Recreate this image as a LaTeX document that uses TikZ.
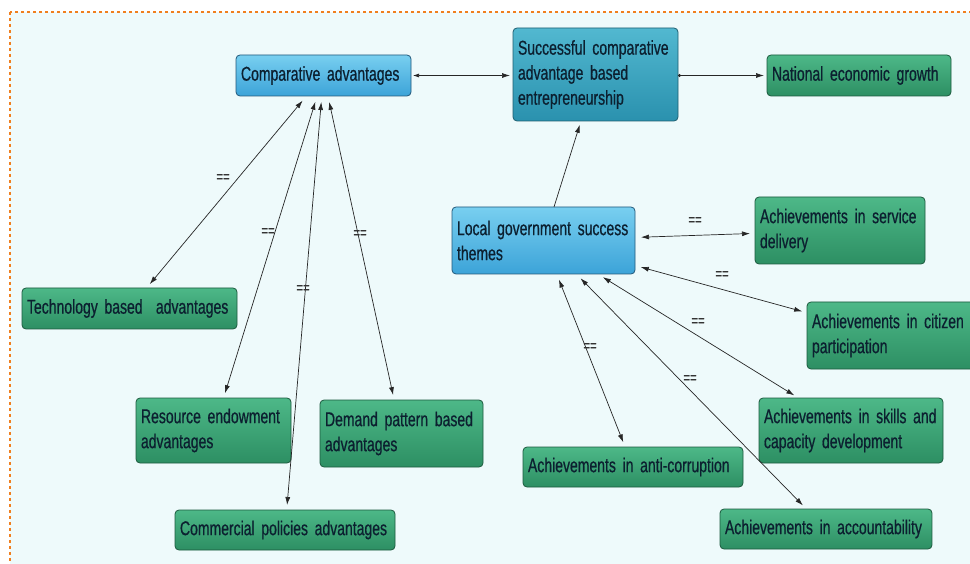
\documentclass[tikz,border=0pt]{standalone}
\usepackage{fontspec}
\setmainfont{Liberation Sans}[FakeStretch=0.7, WordSpace=0.45, FakeBold=0.6]
\usetikzlibrary{arrows.meta}
\definecolor{bgc}{HTML}{EEFAFB}
\definecolor{framec}{HTML}{F07F1E}
\definecolor{blueT}{HTML}{78CFF0}
\definecolor{blueB}{HTML}{3CA3D8}
\definecolor{blueD}{HTML}{22587A}
\definecolor{tealT}{HTML}{52B8D0}
\definecolor{tealB}{HTML}{2A91AE}
\definecolor{tealD}{HTML}{1E5E70}
\definecolor{greenT}{HTML}{4DB888}
\definecolor{greenB}{HTML}{2D8F63}
\definecolor{greenD}{HTML}{1C5A3E}
\definecolor{txtc}{HTML}{0C2030}
\tikzset{
  basebox/.style={rounded corners=4pt, line width=0.8pt, inner xsep=5pt, inner ysep=2pt,
    outer sep=0pt, align=left, text=txtc, font=\fontsize{20}{25}\selectfont},
  bluebox/.style={basebox, draw=blueD, top color=blueT, bottom color=blueB},
  tealbox/.style={basebox, draw=tealD, top color=tealT, bottom color=tealB},
  greenbox/.style={basebox, draw=greenD, top color=greenT, bottom color=greenB},
  conn/.style={line width=0.7pt, draw=black!85},
  twoway/.style={conn, {Latex[length=8pt,width=5pt]}-{Latex[length=8pt,width=5pt]}, shorten <=6pt, shorten >=5pt},
  oneway/.style={conn, -{Latex[length=8pt,width=5pt]}, shorten >=4pt},
  eqlabel/.style={font=\fontsize{16}{16}\selectfont, text=black!80, inner sep=0pt}
}
\begin{document}
\begin{tikzpicture}[x=1pt,y=-1pt]
\useasboundingbox (0,0) rectangle (970,564);
\begin{scope}
\clip (0,0) rectangle (970,564);
\fill[white] (0,0) rectangle (970,564);
\draw[framec, dashed, line width=1.1pt, fill=bgc] (10,12) rectangle (985,580);
\end{scope}

% nodes
\node[bluebox, text width=165pt, minimum height=41pt] (ca) at (323.5,75.5) {Comparative advantages};
\node[tealbox, text width=155pt, minimum height=93pt] (succ) at (595.5,74.5) {Successful comparative\\advantage based\\entrepreneurship};
\node[greenbox, text width=174pt, minimum height=41pt] (neg) at (859,75.5) {National economic growth};
\node[bluebox, text width=173pt, minimum height=67pt] (lg) at (543.5,240.5) {Local government success\\themes};
\node[greenbox, text width=160pt, minimum height=67pt] (serv) at (840,230.5) {Achievements in service\\delivery};
\node[greenbox, text width=157pt, minimum height=67pt] (cit) at (890.5,335.5) {Achievements in citizen\\participation};
\node[greenbox, text width=174pt, minimum height=65pt] (skill) at (851,430.5) {Achievements in skills and\\capacity development};
\node[greenbox, text width=210pt, minimum height=40pt] (anti) at (633,467) {Achievements in anti-corruption};
\node[greenbox, text width=202pt, minimum height=40pt] (acc) at (826,529) {Achievements in accountability};
\node[greenbox, text width=205pt, minimum height=41pt] (tech) at (129.5,308.5) {Technology based~ advantages};
\node[greenbox, text width=145pt, minimum height=65pt] (res) at (213.5,430.5) {Resource endowment\\advantages};
\node[greenbox, text width=153pt, minimum height=67pt] (dem) at (401.5,433.5) {Demand pattern based\\advantages};
\node[greenbox, text width=210pt, minimum height=40pt] (com) at (285,530) {Commercial policies advantages};

% connectors
\draw[conn, {Latex[length=6pt,width=4pt]}-{Latex[length=8pt,width=5pt]}, shorten <=2pt, shorten >=3pt]
  (ca.east) -- (ca.east -| succ.west);
\draw[conn, {Circle[length=3pt]}-{Latex[length=8pt,width=5pt]}, shorten >=3pt]
  (succ.east |- neg.west) -- (neg.west);
\draw[oneway] (lg) -- (succ);

\draw[twoway] (ca) -- (tech);
\draw[twoway] (ca) -- (res);
\draw[twoway] (ca) -- (com);
\draw[twoway] (ca) -- (dem);

\draw[twoway] (lg) -- (serv);
\draw[twoway] (lg) -- (cit);
\draw[twoway] (lg) -- (skill);
\draw[twoway] (lg) -- (acc);
\draw[twoway] (lg) -- (anti);

% labels
\node[eqlabel] (e1) at (223,178) {==};
\node[eqlabel] (e2) at (268,232) {==};
\node[eqlabel] (e3) at (360,234) {==};
\node[eqlabel] (e4) at (303,289) {==};
\node[eqlabel] (e5) at (695,221) {==};
\node[eqlabel] (e6) at (722,275) {==};
\node[eqlabel] (e7) at (698,322) {==};
\node[eqlabel] (e8) at (590,347) {==};
\node[eqlabel] (e9) at (690,379) {==};
\end{tikzpicture}
\end{document}
